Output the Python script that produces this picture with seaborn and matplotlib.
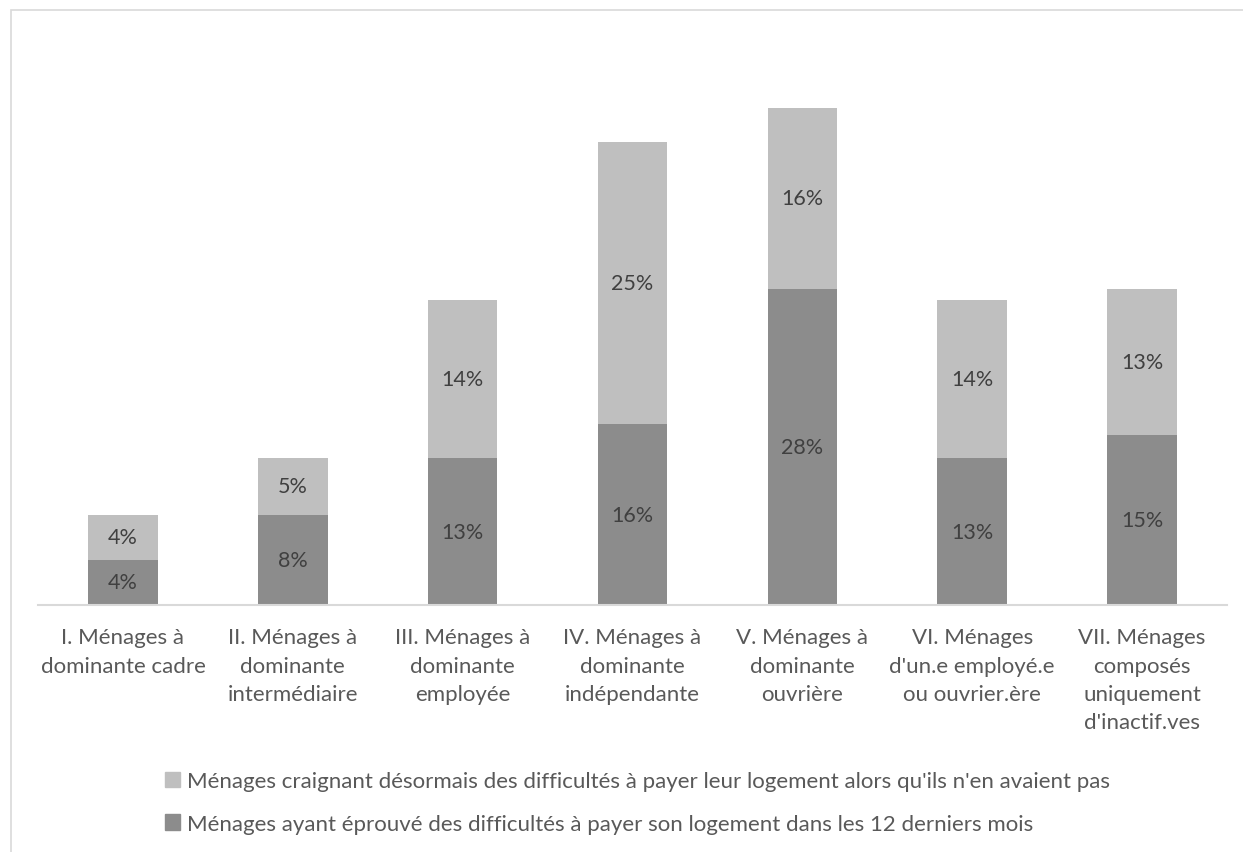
import matplotlib
matplotlib.use("Agg")
import matplotlib.pyplot as plt
import matplotlib.patches as mpatches
import pandas as pd
import seaborn as sns

# ==========================================
# DATA
# ==========================================
categories = [
    "I. Ménages à\ndominante cadre",
    "II. Ménages à\ndominante\nintermédiaire",
    "III. Ménages à\ndominante\nemployée",
    "IV. Ménages à\ndominante\nindépendante",
    "V. Ménages à\ndominante\nouvrière",
    "VI. Ménages\nd'un.e employé.e\nou ouvrier.ère",
    "VII. Ménages\ncomposés\nuniquement\nd'inactif.ves",
]
eprouve = [4, 8, 13, 16, 28, 13, 15]      # dark, bottom
craignant = [4, 5, 14, 25, 16, 14, 13]    # light, top

label_eprouve = "Ménages ayant éprouvé des difficultés à payer son logement dans les 12 derniers mois"
label_craignant = "Ménages craignant désormais des difficultés à payer leur logement alors qu'ils n'en avaient pas"

DARK = "#8c8c8c"
LIGHT = "#bfbfbf"
TEXT = "#595959"
GRID = "#d9d9d9"
FS = 16

df = pd.DataFrame({"cat": categories, "eprouve": eprouve, "craignant": craignant})
df["total"] = df["eprouve"] + df["craignant"]

# ==========================================
# PLOT
# ==========================================
sns.set_theme(style="white")
plt.rcParams["font.family"] = ["Lato", "DejaVu Sans"]

fig = plt.figure(figsize=(12.43, 8.53), dpi=100)
ax = fig.add_axes([0.0306, 0.2896, 0.9565, 0.6624])

# total first (light), then the bottom part (dark) on top of it
sns.barplot(data=df, x="cat", y="total", color=LIGHT, width=0.41,
            saturation=1, ax=ax, edgecolor="none")
sns.barplot(data=df, x="cat", y="eprouve", color=DARK, width=0.41,
            saturation=1, ax=ax, edgecolor="none")

# value labels
for i, row in df.iterrows():
    ax.text(i, row["eprouve"] / 2, f"{row['eprouve']}%", ha="center",
            va="center", fontsize=15.5, color="#404040")
    ax.text(i, row["eprouve"] + row["craignant"] / 2, f"{row['craignant']}%",
            ha="center", va="center", fontsize=15.5, color="#404040")

ax.set_ylim(0, 50)
ax.set_xlim(-0.5, 6.5)
ax.set_xlabel("")
ax.set_ylabel("")
ax.set_yticks([])
for side in ["top", "right", "left"]:
    ax.spines[side].set_visible(False)
ax.spines["bottom"].set_color(GRID)
ax.spines["bottom"].set_linewidth(1.5)
ax.tick_params(axis="x", length=0, pad=16, labelsize=FS, labelcolor=TEXT)
plt.setp(ax.get_xticklabels(), linespacing=1.52, va="top")

# legend below, light entry first
handles = [mpatches.Patch(color=LIGHT, label=label_craignant),
           mpatches.Patch(color=DARK, label=label_eprouve)]
fig.legend(handles=handles, loc="upper left", bbox_to_anchor=(165 / 1243, 1 - 772 / 853),
           frameon=False, fontsize=FS, labelcolor=TEXT, handlelength=0.68,
           handleheight=0.68, handletextpad=0.3, labelspacing=1.02,
           borderaxespad=0, borderpad=0)

# light outer frame (only top and left edges are visible in the crop)
fig.patches.append(mpatches.Rectangle((11 / 1243, -0.01), 1.0, 1 - 11 / 853 + 0.01,
                                      transform=fig.transFigure, fill=False,
                                      edgecolor=GRID, linewidth=1.2))

fig.savefig("out.png", dpi=100)
plt.close(fig)
